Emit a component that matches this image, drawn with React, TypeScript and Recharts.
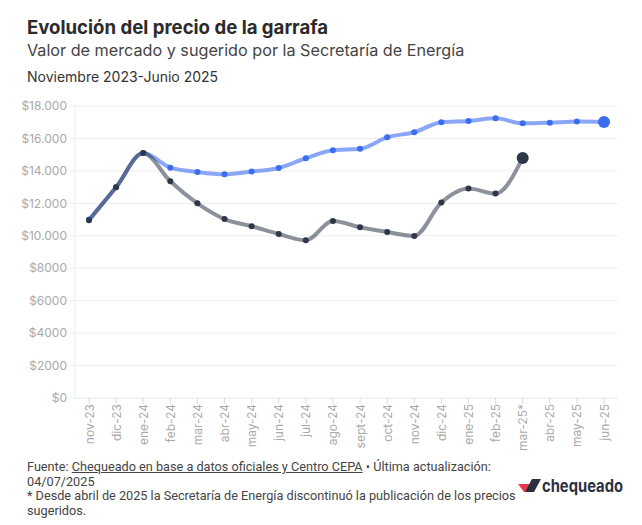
import React from "react";
import { LineChart, Line, XAxis, YAxis, CartesianGrid } from "recharts";

const months = [
  "nov-23", "dic-23", "ene-24", "feb-24", "mar-24", "abr-24", "may-24", "jun-24",
  "jul-24", "ago-24", "sept-24", "oct-24", "nov-24", "dic-24", "ene-25", "feb-25",
  "mar-25*", "abr-25", "may-25", "jun-25",
];

// precio sugerido por la Secretaría de Energía
const sugerido = [
  11000, 13000, 15100, 14200, 13930, 13790, 13960, 14180,
  14780, 15270, 15360, 16070, 16380, 17000, 17080, 17240,
  16930, 16970, 17040, 17020,
];

// valor de mercado (sin datos desde abr-25)
const mercado: (number | null)[] = [
  10950, 12990, 15100, 13360, 12000, 11030, 10590, 10110,
  9720, 10910, 10525, 10235, 9990, 12045, 12910, 12600,
  14800, null, null, null,
];

const yTicks = [0, 2000, 4000, 6000, 8000, 10000, 12000, 14000, 16000, 18000];

const data = months.map((m, i) => ({ month: m, sugerido: sugerido[i], mercado: mercado[i] }));

const BLUE = "#3a6df0";
const DARK = "#2d3748";
const FONT = "Inter, 'Liberation Sans', sans-serif";
const FOOT_FONT = "Roboto, 'Liberation Sans', sans-serif";

const fmtPeso = (v: number) =>
  v >= 10000 ? "$" + String(v).replace(/(\d)(?=(\d{3})+$)/g, "$1.") : "$" + v;

function makeDot(color: string, lastIndex: number) {
  return (props: any) => {
    const { cx, cy, index, value } = props;
    if (value == null || cx == null || cy == null) return <g key={"d" + index} />;
    return <circle key={"d" + index} cx={cx} cy={cy} r={index === lastIndex ? 6 : 3} fill={color} />;
  };
}

const lastMercado = mercado.reduce((acc: number, v, i) => (v != null ? i : acc), 0);

export default function App() {
  return (
    <div style={{ position: "absolute", left: 0, top: 0, width: 642, height: 525, background: "#fff", fontFamily: FONT, color: "#333" }}>
      <div style={{ position: "absolute", left: 27, top: 16, fontSize: 18.6, fontWeight: 700, color: "#2b2b2b", whiteSpace: "nowrap" }}>
        Evolución del precio de la garrafa
      </div>
      <div style={{ position: "absolute", left: 27, top: 40, fontSize: 16.2, color: "#444", whiteSpace: "nowrap" }}>
        Valor de mercado y sugerido por la Secretaría de Energía
      </div>
      <div style={{ position: "absolute", left: 27, top: 68, fontSize: 14, color: "#333", whiteSpace: "nowrap" }}>
        Noviembre 2023-Junio 2025
      </div>

      <div style={{ position: "absolute", left: 0, top: 0 }}>
        <LineChart width={642} height={460} data={data} margin={{ top: 106, right: 24, bottom: 7, left: 15 }}>
          <CartesianGrid vertical={false} stroke="#eeeeee" />
          <XAxis
            dataKey="month"
            padding={{ left: 14, right: 14 }}
            interval={0}
            height={55}
            angle={-90}
            textAnchor="end"
            dx={-4}
            dy={-2}
            tick={{ fill: "#aaaaaa", fontSize: 12, fontFamily: FONT }}
            tickLine={{ stroke: "#dddddd" }}
            axisLine={{ stroke: "#eeeeee" }}
          />
          <YAxis
            width={60}
            domain={[0, 18000]}
            ticks={yTicks}
            tickFormatter={fmtPeso}
            tick={{ fill: "#aaaaaa", fontSize: 12, fontFamily: FONT }}
            tickLine={{ stroke: "#eeeeee" }}
            axisLine={{ stroke: "#eeeeee" }}
          />
          <Line
            type="monotone"
            dataKey="sugerido"
            stroke={BLUE}
            strokeOpacity={0.6}
            strokeWidth={4}
            dot={makeDot(BLUE, sugerido.length - 1)}
            activeDot={false}
            isAnimationActive={false}
          />
          <Line
            type="monotone"
            dataKey="mercado"
            stroke={DARK}
            strokeOpacity={0.55}
            strokeWidth={4}
            dot={makeDot(DARK, lastMercado)}
            activeDot={false}
            isAnimationActive={false}
          />
        </LineChart>
      </div>

      <div style={{ position: "absolute", left: 27, top: 460, fontSize: 12.7, lineHeight: "14.5px", fontFamily: FOOT_FONT, color: "#444", whiteSpace: "nowrap" }}>
        Fuente: <span style={{ textDecoration: "underline" }}>Chequeado en base a datos oficiales y Centro CEPA</span> • Última actualización:
        <br />
        04/07/2025
        <br />
        * Desde abril de 2025 la Secretaría de Energía discontinuó la publicación de los precios
        <br />
        sugeridos.
      </div>

      <svg style={{ position: "absolute", left: 512, top: 470 }} width={126} height={40}>
        <path d="M6 14 L21 14 L17 22 L12 22 Z" fill="#e8384f" />
        <path d="M20 9 L29 9 L22 22 L13 22 Z" fill="#2b3040" />
        <text x={30} y={22} fontSize={17} fontWeight={700} fill="#2b3040" fontFamily={FONT} textLength={81} lengthAdjust="spacingAndGlyphs">
          chequeado
        </text>
      </svg>
    </div>
  );
}
